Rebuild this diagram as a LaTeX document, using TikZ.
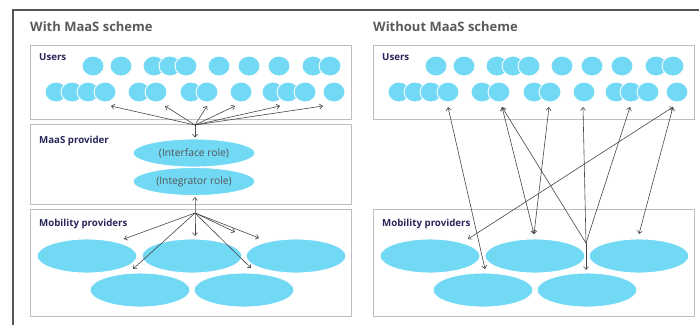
\documentclass[tikz,border=0pt]{standalone}
\usepackage{fontspec}
\setmainfont{Open Sans}
\usetikzlibrary{shapes.geometric,arrows.meta}
\definecolor{bubble}{RGB}{114,217,245}
\definecolor{boxline}{RGB}{190,190,190}
\definecolor{framecol}{RGB}{85,85,85}
\definecolor{titlecol}{RGB}{90,90,90}
\definecolor{labcol}{RGB}{40,38,90}
\definecolor{txtcol}{RGB}{85,85,85}
\definecolor{arrcol}{RGB}{70,70,70}
\tikzset{
  panelbox/.style={draw=boxline, line width=1pt},
  usr/.style={ellipse, fill=bubble, draw=white, line width=0.9pt, inner sep=0pt, minimum width=22pt, minimum height=20pt},
  role/.style={ellipse, fill=bubble, draw=white, line width=0.9pt, inner sep=0pt, minimum width=122pt, minimum height=28pt, font=\fontsize{10.3}{12}\selectfont, text=txtcol},
  mob/.style={ellipse, fill=bubble, draw=white, line width=0.9pt, inner sep=0pt, minimum width=100pt, minimum height=34pt},
  paneltitle/.style={anchor=base west, inner sep=0pt, font=\bfseries\fontsize{13}{15}\selectfont, text=titlecol},
  boxlabel/.style={anchor=base west, inner sep=0pt, font=\bfseries\fontsize{9.7}{12}\selectfont, text=labcol},
  conn/.style={draw=arrcol, line width=0.6pt},
  tip/.style={-{Straight Barb[length=3pt,width=5pt]}},
  tips/.style={{Straight Barb[length=3pt,width=5pt]}-{Straight Barb[length=3pt,width=5pt]}}
}
\begin{document}
\begin{tikzpicture}[x=1pt,y=-1pt]
\useasboundingbox (0,0) rectangle (699,325);
% outer frame
\draw[draw=framecol, line width=1.4pt] (13,325) -- (13,10) -- (699,10);
% titles
\node[paneltitle] (t1) at (30,31.5) {With MaaS scheme};
\node[paneltitle] (t2) at (373,31.5) {Without MaaS scheme};
% boxes left
\draw[panelbox] (30,45) rectangle (351,119);
\draw[panelbox] (30,124) rectangle (351,204);
\draw[panelbox] (30,209) rectangle (351,316);
% boxes right
\draw[panelbox] (373,45) rectangle (694,119);
\draw[panelbox] (373,209) rectangle (694,316);
% labels
\node[boxlabel] (lu) at (39,60) {Users};
\node[boxlabel] (lm) at (39,143) {MaaS provider};
\node[boxlabel] (lp) at (39,226) {Mobility providers};
\node[boxlabel] (ru) at (382,60) {Users};
\node[boxlabel] (rp) at (382,226) {Mobility providers};
% users circles
\foreach \x [count=\i] in {93,121,154,170,186,219,249,279,313,330}{
  \node[usr] (LA\i) at (\x,66) {};
  \node[usr] (RA\i) at (\x+343,66) {};
}
\foreach \x [count=\i] in {56,72,88,105,139,156,191,207,241,273,288,305,334}{
  \node[usr] (LB\i) at (\x,92) {};
  \node[usr] (RB\i) at (\x+343,92) {};
}
% MaaS provider roles
\node[role] (iface) at (194,153) {(Interface role)};
\node[role] (integ) at (194,181.5) {(Integrator role)};
% mobility providers
\foreach \x [count=\i] in {87,192,296}{
  \node[mob] (LM\i) at (\x,256) {};
  \node[mob] (RM\i) at (\x+343,256) {};
}
\foreach \x [count=\i] in {140,244}{
  \node[mob] (LN\i) at (\x,290) {};
  \node[mob] (RN\i) at (\x+343,290) {};
}
% ---------- left arrows ----------
\coordinate (hubU) at (195,125);
\coordinate (a1) at (111,106);
\coordinate (a2) at (165,106);
\coordinate (a3) at (207,106);
\coordinate (a4) at (235,106);
\coordinate (a5) at (280,106);
\coordinate (a6) at (323,106);
\coordinate (ifTop) at (195,137.5);
\foreach \t in {a1,a2,a3,a4,a5,a6,ifTop}{
  \draw[conn,tip] (hubU) -- (\t);
}
\coordinate (hubL) at (195,213);
\coordinate (inBot) at (195,197);
\coordinate (b0) at (195,236);
\draw[conn,tips] (inBot) -- (hubL) -- (b0);
\coordinate (b1) at (124,239);
\coordinate (b2) at (133,269);
\coordinate (b3) at (235,232);
\coordinate (b4) at (259,238);
\coordinate (b5) at (251,268);
\foreach \t in {b1,b2,b3,b4,b5}{
  \draw[conn,tip] (hubL) -- (\t);
}
% ---------- right arrows ----------
\coordinate (r1) at (448,107);
\coordinate (r2) at (502,107);
\coordinate (r3) at (549,107);
\coordinate (r4) at (583,107);
\coordinate (r5) at (630,107);
\coordinate (r6) at (673,107);
\coordinate (p1) at (485,269);
\coordinate (p2) at (534,234);
\coordinate (p3) at (468,239);
\coordinate (p4) at (639,234);
\coordinate (jn) at (586,243);
\coordinate (p5) at (586,270);
\draw[conn,tips] (r1) -- (p1);
\draw[conn,tips] (r2) -- (p2);
\draw[conn,tips] (r3) -- (p2);
\draw[conn,tip] (jn) -- (r2);
\draw[conn,tip] (jn) -- (r4);
\draw[conn,tip] (jn) -- (r5);
\draw[conn,tip] (jn) -- (p5);
\draw[conn,tips] (r6) -- (p3);
\draw[conn,tips] (r6) -- (p4);
\end{tikzpicture}
\end{document}
